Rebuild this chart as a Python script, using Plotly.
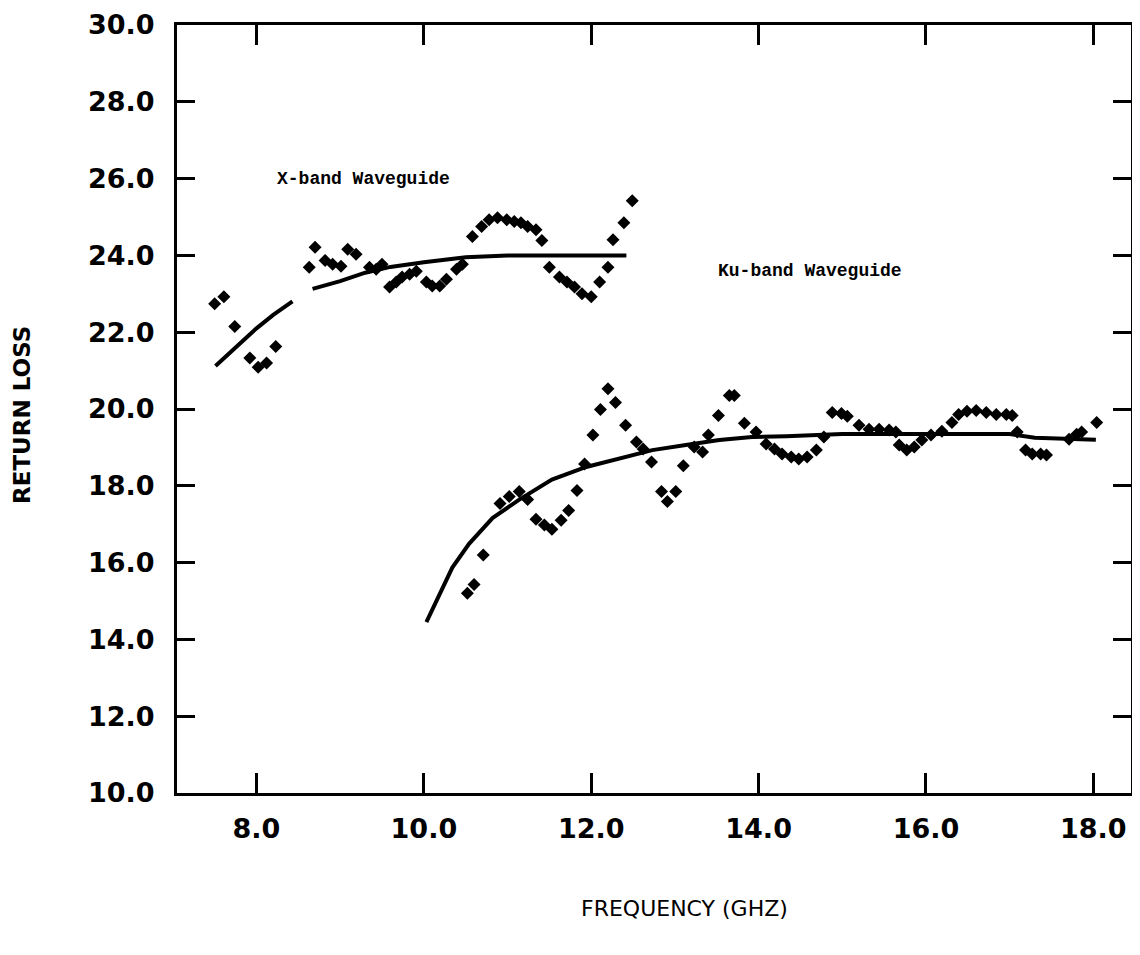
import plotly.graph_objects as go

# ---------------- data ----------------
# X-band waveguide: measured points (GHz, dB)
xband_freq = [7.50, 7.61, 7.74, 7.92, 8.02, 8.12, 8.23,
              8.63, 8.70, 8.82, 8.91, 9.01, 9.09, 9.19, 9.35, 9.43, 9.50,
              9.59, 9.67, 9.74, 9.83, 9.91, 10.03, 10.10, 10.19, 10.27, 10.39,
              10.46, 10.58, 10.69, 10.78, 10.88, 10.99, 11.08, 11.16, 11.24,
              11.34, 11.41, 11.50, 11.62, 11.71, 11.80, 11.89, 12.00, 12.10,
              12.20, 12.26, 12.39, 12.49]
xband_rl = [22.74, 22.92, 22.15, 21.33, 21.09, 21.20, 21.63,
            23.69, 24.21, 23.87, 23.77, 23.72, 24.16, 24.03, 23.69, 23.64, 23.77,
            23.18, 23.31, 23.44, 23.51, 23.59, 23.31, 23.20, 23.20, 23.38, 23.64,
            23.77, 24.49, 24.75, 24.93, 24.98, 24.93, 24.88, 24.85, 24.75,
            24.67, 24.39, 23.69, 23.44, 23.31, 23.18, 23.00, 22.92, 23.31,
            23.69, 24.41, 24.85, 25.42]

# X-band fitted curve (gap where the trace is broken)
xfit_freq = [7.51, 7.75, 8.00, 8.20, 8.43, None,
             8.67, 9.00, 9.30, 9.60, 10.00, 10.50, 11.00, 12.42]
xfit_rl = [21.12, 21.60, 22.10, 22.45, 22.80, None,
           23.13, 23.33, 23.55, 23.70, 23.82, 23.95, 24.00, 24.00]

# Ku-band waveguide: measured points
kuband_freq = [10.52, 10.60, 10.71, 10.91, 11.02, 11.14, 11.24, 11.34, 11.44,
               11.53, 11.64, 11.73, 11.83, 11.92, 12.02, 12.11, 12.20, 12.29,
               12.41, 12.54, 12.62, 12.72, 12.84, 12.91, 13.01, 13.10, 13.23,
               13.33, 13.40, 13.52, 13.65, 13.71, 13.83, 13.97, 14.09, 14.19,
               14.28, 14.39, 14.48, 14.58, 14.69, 14.78, 14.88, 14.99, 15.06,
               15.20, 15.32, 15.44, 15.56, 15.64, 15.68, 15.77, 15.86, 15.95,
               16.06, 16.19, 16.31, 16.39, 16.49, 16.60, 16.72, 16.84, 16.96,
               17.03, 17.09, 17.19, 17.27, 17.37, 17.44, 17.71, 17.80, 17.86,
               18.04]
kuband_rl = [15.20, 15.43, 16.20, 17.54, 17.72, 17.85, 17.64, 17.13, 16.98,
             16.87, 17.10, 17.36, 17.88, 18.57, 19.32, 19.99, 20.53, 20.17,
             19.58, 19.14, 18.96, 18.62, 17.85, 17.59, 17.85, 18.52, 19.01,
             18.88, 19.32, 19.83, 20.35, 20.35, 19.63, 19.40, 19.09, 18.96,
             18.83, 18.75, 18.70, 18.75, 18.93, 19.27, 19.91, 19.88, 19.81,
             19.58, 19.47, 19.47, 19.45, 19.40, 19.06, 18.93, 19.01, 19.19,
             19.32, 19.42, 19.65, 19.86, 19.94, 19.96, 19.91, 19.86, 19.86,
             19.83, 19.40, 18.93, 18.83, 18.83, 18.80, 19.21, 19.34, 19.40,
             19.65]

# Ku-band fitted curve
kufit_freq = [10.03, 10.16, 10.34, 10.54, 10.82, 11.14, 11.53, 11.94, 12.33,
              12.73, 13.13, 13.53, 13.92, 14.33, 15.00, 16.00, 17.00, 17.30,
              18.03]
kufit_rl = [14.45, 15.07, 15.87, 16.49, 17.16, 17.64, 18.16, 18.49, 18.70,
            18.93, 19.06, 19.19, 19.27, 19.29, 19.35, 19.35, 19.35, 19.25,
            19.20]

x_ticks = [8, 10, 12, 14, 16, 18]
x_tick_labels = ["8.0", "10.0", "12.0", "14.0", "16.0", "18.0"]
y_ticks = [10, 12, 14, 16, 18, 20, 22, 24, 26, 28, 30]
y_tick_labels = ["10.0", "12.0", "14.0", "16.0", "18.0", "20.0",
                 "22.0", "24.0", "26.0", "28.0", "30.0"]

# ---------------- figure ----------------
# the page body adds an 8 px offset, so margins are set 8 px smaller
W, H = 1140, 955
ML, MR, MT, MB = 169, 17, 17, 170
PW, PH = W - ML - MR, H - MT - MB
OFF = 8

fig = go.Figure()

marker_style = dict(symbol="diamond", size=10, color="black")
line_style = dict(color="black", width=4)

fig.add_trace(go.Scatter(x=xfit_freq, y=xfit_rl, mode="lines", line=line_style,
                         connectgaps=False, showlegend=False, hoverinfo="skip"))
fig.add_trace(go.Scatter(x=kufit_freq, y=kufit_rl, mode="lines", line=line_style,
                         showlegend=False, hoverinfo="skip"))
fig.add_trace(go.Scatter(x=xband_freq, y=xband_rl, mode="markers",
                         marker=marker_style, showlegend=False))
fig.add_trace(go.Scatter(x=kuband_freq, y=kuband_rl, mode="markers",
                         marker=marker_style, showlegend=False))

tick_font = dict(family="DejaVu Sans", size=27, color="black", weight="bold")

fig.update_xaxes(
    range=[7.05, 18.45], tickmode="array", tickvals=x_ticks, ticktext=x_tick_labels,
    ticks="inside", ticklen=20, tickwidth=3, tickcolor="black",
    showline=True, linewidth=3, linecolor="black", mirror="ticks",
    showgrid=False, zeroline=False, tickfont=tick_font, ticklabelstandoff=10,
    automargin=False, ticklabeloverflow="allow",
)
fig.update_yaxes(
    range=[10, 30], tickmode="array", tickvals=y_ticks, ticktext=y_tick_labels,
    ticks="inside", ticklen=18, tickwidth=3, tickcolor="black",
    showline=True, linewidth=3, linecolor="black", mirror="ticks",
    showgrid=False, zeroline=False, tickfont=tick_font, ticklabelstandoff=14,
    automargin=False, ticklabeloverflow="allow",
)

fig.add_annotation(x=9.28, y=25.98, text="X-band Waveguide", showarrow=False,
                   xanchor="center", yanchor="middle",
                   font=dict(family="Liberation Mono", size=18, color="black",
                             weight="bold"))
fig.add_annotation(x=14.62, y=23.6, text="Ku-band Waveguide", showarrow=False,
                   xanchor="center", yanchor="middle",
                   font=dict(family="Liberation Mono", size=18, color="black",
                             weight="bold"))

# axis titles placed by screen pixel position, converted to paper coordinates
fig.add_annotation(x=(22 - OFF - ML) / PW, y=1 - (415 - OFF - MT) / PH,
                   xref="paper", yref="paper",
                   text="RETURN LOSS", showarrow=False, textangle=-90,
                   xanchor="center", yanchor="middle",
                   font=dict(family="DejaVu Sans", size=23, color="black",
                             weight="bold"))
fig.add_annotation(x=(684 - OFF - ML) / PW, y=1 - (908 - OFF - MT) / PH,
                   xref="paper", yref="paper",
                   text="FREQUENCY (GHZ)", showarrow=False,
                   xanchor="center", yanchor="middle",
                   font=dict(family="DejaVu Sans", size=22, color="black"))

fig.update_layout(
    width=W, height=H,
    margin=dict(l=ML, r=MR, t=MT, b=MB, autoexpand=False),
    plot_bgcolor="white", paper_bgcolor="white",
)

fig.write_html("out.html")
